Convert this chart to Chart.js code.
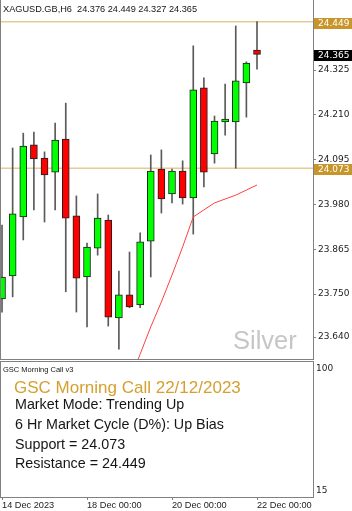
<!DOCTYPE html>
<html>
<head>
<meta charset="utf-8">
<script src="https://cdn.jsdelivr.net/npm/chart.js@4.4.1/dist/chart.umd.min.js"></script>
<style>
  html, body { margin: 0; padding: 0; background: #fff; }
  #wrap { position: relative; width: 352px; height: 511px; overflow: hidden; font-family: 'Liberation Sans', Arial, sans-serif; }
  canvas { position: absolute; left: 0; }
  #main { top: 0; }
  #ind { top: 360px; }
  .txt { position: absolute; white-space: pre; line-height: 1; color: #151515; }
</style>
</head>
<body>
<div id="wrap">
  <canvas id="main" width="352" height="360"></canvas>
  <canvas id="ind" width="352" height="151"></canvas>
  <div class="txt" id="hdr" style="left:3px;top:5px;font-size:9.2px"></div>
  <div class="txt" style="left:233px;top:328px;font-size:25.5px;color:#c6c6c6">Silver</div>
  <div class="txt" style="left:3px;top:366px;font-size:7.5px">GSC Morning Call v3</div>
  <div class="txt" style="left:14px;top:378.5px;font-size:17px;color:#d4a030">GSC Morning Call 22/12/2023</div>
  <div class="txt" style="left:15px;top:397px;font-size:14.3px">Market Mode: Trending Up</div>
  <div class="txt" style="left:15px;top:417px;font-size:14.3px">6 Hr Market Cycle (D%): Up Bias</div>
  <div class="txt" id="sup" style="left:15px;top:437px;font-size:14.3px"></div>
  <div class="txt" id="res" style="left:15px;top:456px;font-size:14.3px"></div>
</div>
<script>
// ── Data ────────────────────────────────────────────────────
const symbol = 'XAGUSD.GB,H6';
const candleTimes = [
    '14 Dec 00:00', '14 Dec 06:00', '14 Dec 12:00', '14 Dec 18:00',
    '15 Dec 00:00', '15 Dec 06:00', '15 Dec 12:00', '15 Dec 18:00',
    '18 Dec 00:00', '18 Dec 06:00', '18 Dec 12:00', '18 Dec 18:00',
    '19 Dec 00:00', '19 Dec 06:00', '19 Dec 12:00', '19 Dec 18:00',
    '20 Dec 00:00', '20 Dec 06:00', '20 Dec 12:00', '20 Dec 18:00',
    '21 Dec 00:00', '21 Dec 06:00', '21 Dec 12:00', '21 Dec 18:00',
    '22 Dec 00:00'
];
const opens  = [23.738, 23.797, 23.948, 24.133, 24.099, 24.063, 24.148, 23.951, 23.794, 23.868, 23.940, 23.689, 23.748, 23.722, 23.886, 24.071, 24.007, 24.066, 23.997, 24.279, 24.110, 24.192, 24.192, 24.292, 24.376];
const highs  = [23.927, 24.125, 24.163, 24.166, 24.115, 24.189, 24.240, 24.002, 23.881, 24.007, 23.953, 23.809, 23.858, 23.907, 24.107, 24.120, 24.071, 24.092, 24.387, 24.305, 24.207, 24.289, 24.438, 24.346, 24.449];
const lows   = [23.704, 23.743, 23.889, 23.966, 23.935, 23.966, 23.756, 23.704, 23.666, 23.850, 23.668, 23.609, 23.715, 23.715, 23.794, 23.958, 23.984, 23.981, 23.904, 24.025, 24.086, 24.158, 24.073, 24.204, 24.327];
const closes = [23.794, 23.956, 24.130, 24.097, 24.056, 24.145, 23.945, 23.791, 23.871, 23.945, 23.691, 23.748, 23.717, 23.884, 24.066, 23.994, 24.066, 23.997, 24.274, 24.063, 24.194, 24.199, 24.297, 24.343, 24.365];
const maValues = [null, null, null, null, null, null, null, null, null, null, null, null,
    23.527, 23.596, 23.666, 23.730, 23.799, 23.871, 23.948, 23.966, 23.984, 23.994, 24.004, 24.017, 24.030];
const support = 24.073;
const resistance = 24.449;
const priceTicks = [24.325, 24.210, 24.095, 23.980, 23.865, 23.750, 23.640];
const indTicks = [100, 15];
const timeTickIdx = [0, 8, 16, 24];
const timeTickLabels = ['14 Dec 2023', '18 Dec 00:00', '20 Dec 00:00', '22 Dec 00:00'];

// ── View ranges ─────────────────────────────────────────────
const xMin = -0.19, xMax = 29.27;
const yMin = 23.581, yMax = 24.5046;
const gold = '#c8952a';
const axisFont = { family: 'DejaVu Sans', size: 9 };
const last = closes.length - 1;

document.getElementById('hdr').textContent =
    `${symbol}  ${opens[last].toFixed(3)} ${highs[last].toFixed(3)} ${lows[last].toFixed(3)} ${closes[last].toFixed(3)}`;
document.getElementById('sup').textContent = `Support = ${support.toFixed(3)}`;
document.getElementById('res').textContent = `Resistance = ${resistance.toFixed(3)}`;

// ── Plugins ─────────────────────────────────────────────────
const frame = {
    id: 'frame',
    afterDraw(chart, args, opts) {
        const { ctx, chartArea: a } = chart;
        ctx.save();
        ctx.strokeStyle = '#808080';
        ctx.lineWidth = 1;
        ctx.beginPath();
        ctx.moveTo(a.left + 0.5, a.top);
        ctx.lineTo(a.left + 0.5, a.bottom);
        if (opts.top) { ctx.moveTo(a.left, a.top + 0.5); ctx.lineTo(a.right, a.top + 0.5); }
        if (opts.bottom) { ctx.moveTo(a.left, a.bottom - 0.5); ctx.lineTo(a.right, a.bottom - 0.5); }
        ctx.stroke();
        ctx.restore();
    }
};

const priceTags = {
    id: 'priceTags',
    afterDraw(chart) {
        const { ctx, chartArea, scales: { y } } = chart;
        const tags = [
            { value: resistance, bg: gold },
            { value: support, bg: gold },
            { value: closes[last], bg: '#000' }
        ];
        ctx.save();
        ctx.font = '9px "DejaVu Sans"';
        ctx.textBaseline = 'middle';
        tags.forEach(t => {
            const py = Math.round(y.getPixelForValue(t.value));
            ctx.fillStyle = t.bg;
            ctx.fillRect(chartArea.right + 1, py - 4, chart.width - chartArea.right - 1, 11);
            ctx.fillStyle = '#fff';
            ctx.fillText(t.value.toFixed(3), chartArea.right + 5, py + 1.5);
        });
        ctx.restore();
    }
};

// ── Main price chart ────────────────────────────────────────
const idx = closes.map((c, i) => i);
const bodies = idx.map(i => ({ x: i, y: [Math.min(opens[i], closes[i]), Math.max(opens[i], closes[i])] }));
const wicks = idx.map(i => ({ x: i, y: [lows[i], highs[i]] }));
const bodyColors = idx.map(i => closes[i] >= opens[i] ? '#00ff00' : '#ff0000');
const levelLine = v => [{ x: xMin, y: v }, { x: xMax, y: v }];

new Chart(document.getElementById('main'), {
    data: {
        datasets: [
            { type: 'bar', data: bodies, backgroundColor: bodyColors, borderColor: '#1e1e1e', borderWidth: 1,
              borderSkipped: false, barThickness: 7, grouped: false, order: 1 },
            { type: 'bar', data: wicks, backgroundColor: '#5a5a5a', barThickness: 1, grouped: false, order: 2 },
            { type: 'line', data: idx.map(i => ({ x: i, y: maValues[i] })), borderColor: '#ff4040', borderWidth: 1,
              pointRadius: 0, tension: 0, spanGaps: false, order: 0 },
            { type: 'line', data: levelLine(resistance), borderColor: '#e6cb92', borderWidth: 1.5, pointRadius: 0, order: 5 },
            { type: 'line', data: levelLine(support), borderColor: '#e6cb92', borderWidth: 1.5, pointRadius: 0, order: 5 }
        ]
    },
    options: {
        responsive: false,
        animation: false,
        events: [],
        layout: { padding: 0 },
        plugins: { legend: { display: false }, tooltip: { enabled: false }, frame: { bottom: true } },
        scales: {
            x: { type: 'linear', min: xMin, max: xMax, offset: false, display: false },
            y: {
                position: 'right', min: yMin, max: yMax,
                afterBuildTicks: s => { s.ticks = priceTicks.map(v => ({ value: v })); },
                afterFit: s => { s.width = 39; s.paddingTop = 0; s.paddingBottom = 0; },
                grid: { drawOnChartArea: false, drawTicks: true, tickLength: 3, color: '#808080' },
                border: { display: true, color: '#808080' },
                ticks: { padding: 2, color: '#222', font: axisFont, autoSkip: false, callback: v => v.toFixed(3) }
            }
        }
    },
    plugins: [frame, priceTags]
});

// ── Indicator panel ─────────────────────────────────────────
new Chart(document.getElementById('ind'), {
    type: 'line',
    data: { datasets: [] },
    options: {
        responsive: false,
        animation: false,
        events: [],
        layout: { padding: { top: 1 } },
        plugins: { legend: { display: false }, tooltip: { enabled: false }, frame: { top: true } },
        scales: {
            x: {
                type: 'linear', min: xMin, max: xMax, offset: false,
                afterBuildTicks: s => { s.ticks = timeTickIdx.map(v => ({ value: v })); },
                afterFit: s => { s.height = 14; s.paddingLeft = 0; s.paddingRight = 0; },
                grid: { drawOnChartArea: false, drawTicks: true, tickLength: 3, color: '#808080' },
                border: { display: true, color: '#808080' },
                ticks: { align: 'start', padding: 0, maxRotation: 0, autoSkip: false, color: '#222',
                         font: { family: 'Liberation Sans', size: 9.2 }, callback: (v, i) => timeTickLabels[i] }
            },
            y: {
                position: 'right', min: 10.8, max: 105.6,
                afterBuildTicks: s => { s.ticks = indTicks.map(v => ({ value: v })); },
                afterFit: s => { s.width = 39; s.paddingTop = 0; s.paddingBottom = 0; },
                grid: { drawOnChartArea: false, drawTicks: false },
                border: { display: true, color: '#808080' },
                ticks: { padding: 3, color: '#222', font: axisFont, autoSkip: false }
            }
        }
    },
    plugins: [frame]
});
</script>
</body>
</html>
